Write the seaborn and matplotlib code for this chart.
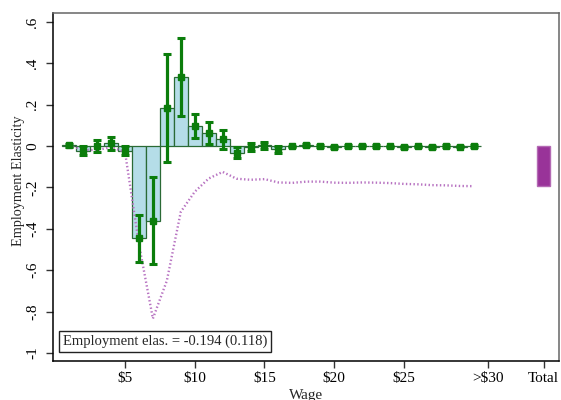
import numpy as np
import pandas as pd
import matplotlib
matplotlib.use("Agg")
import matplotlib.pyplot as plt
import seaborn as sns

# Employment elasticity by $1 wage bin, with 95% CI half-widths
wage_bins = list(range(1, 31))
elasticity = [0.003, -0.022, 0.000, 0.013, -0.022, -0.446, -0.360, 0.183, 0.333, 0.097,
              0.064, 0.032, -0.033, -0.005, 0.003, -0.016, -0.002, 0.006, 0.000, -0.005,
              -0.001, 0.002, -0.001, -0.002, -0.004, -0.002, -0.004, -0.001, -0.003, -0.001]
ci_half = [0.006, 0.022, 0.028, 0.032, 0.021, 0.113, 0.209, 0.260, 0.187, 0.060,
           0.053, 0.045, 0.026, 0.018, 0.015, 0.017, 0.004, 0.004, 0.004, 0.004,
           0.004, 0.004, 0.004, 0.004, 0.004, 0.004, 0.004, 0.004, 0.004, 0.004]

total_elas = -0.194
total_se = 0.118
total_pos = 35

x_tick_pos = [5, 10, 15, 20, 25, 31, 35]
x_tick_labels = ["\\$5", "\\$10", "\\$15", "\\$20", "\\$25", ">\\$30", "Total"]
y_tick_pos = [0.6, 0.4, 0.2, 0.0, -0.2, -0.4, -0.6, -0.8, -1.0]
y_tick_labels = [".6", ".4", ".2", "0", "-.2", "-.4", "-.6", "-.8", "-1"]

df = pd.DataFrame({"wage": wage_bins, "elas": elasticity, "ci": ci_half})
df["cum"] = df["elas"].cumsum()

sns.set_theme(style="white")
plt.rcParams["font.family"] = ["Liberation Serif", "DejaVu Serif"]

fig, ax = plt.subplots(figsize=(5.61, 4.0), dpi=100)
fig.subplots_adjust(left=53 / 561, right=559 / 561, top=1 - 13 / 400, bottom=1 - 361 / 400)

# bins
sns.barplot(data=df, x="wage", y="elas", native_scale=True, width=1, color="#b5dde8",
            saturation=1, edgecolor="#2a6a35", linewidth=0.9, errorbar=None, ax=ax, zorder=2)

# cumulative effect across bins
sns.lineplot(data=df, x="wage", y="cum", ax=ax, color="#b874c2", linewidth=1.7,
             linestyle=(0, (0.6, 1.0)), zorder=3)

# point estimates with confidence intervals
ax.errorbar(df["wage"], df["elas"], yerr=df["ci"], fmt="s", color="#0b7d0b", ms=4.5,
            elinewidth=2.3, capsize=3, capthick=2.2, zorder=4)

# overall effect
ax.bar([total_pos], [total_elas], width=1, color="#993399", edgecolor="#b46ab4",
       linewidth=1, zorder=2)

ax.text(0.02, 0.036, f"Employment elas. = {total_elas:.3f} ({total_se:.3f})",
        transform=ax.transAxes, fontsize=10.5, ha="left", va="bottom",
        bbox=dict(boxstyle="square,pad=0.25", fc="white", ec="#222222", lw=1), zorder=6)

ax.set_xlim(-0.16, 36.11)
ax.set_ylim(-1.039, 0.643)
ax.set_xticks(x_tick_pos)
ax.set_xticklabels(x_tick_labels, fontsize=11)
ax.set_yticks(y_tick_pos)
ax.set_yticklabels(y_tick_labels, fontsize=11, rotation=90, va="center")
ax.tick_params(axis="both", which="major", bottom=True, left=True, length=5, width=1,
               color="#333333", labelcolor="black")
ax.tick_params(axis="x", pad=3)
ax.tick_params(axis="y", pad=5)

ax.set_xlabel("Wage", fontsize=11, labelpad=3)
ax.set_ylabel("Employment Elasticity", fontsize=10.3, va="center")
ax.yaxis.set_label_coords(-0.069, 0.517)

for side in ["left", "bottom"]:
    ax.spines[side].set_color("black")
    ax.spines[side].set_linewidth(1.1)
for side in ["top", "right"]:
    ax.spines[side].set_color("#666666")
    ax.spines[side].set_linewidth(1.1)

fig.savefig("out.png", dpi=100)
